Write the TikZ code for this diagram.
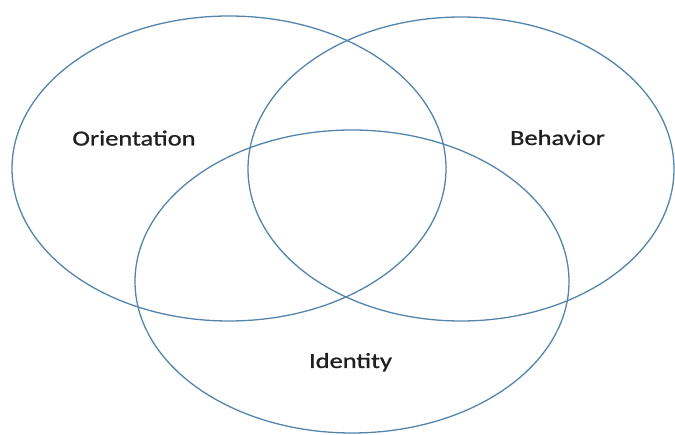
\documentclass[tikz,border=0pt]{standalone}
\usepackage{fontspec}
\setmainfont{Carlito}
\newfontfamily\lblfont[FakeStretch=1.23,FakeBold=0.9]{Carlito}
\definecolor{ring}{RGB}{84,132,172}
\begin{document}
\begin{tikzpicture}[x=1pt,y=-1pt,
  ring/.style={draw=ring,line width=1.3pt},
  lbl/.style={font=\lblfont\fontsize{21.5}{25}\selectfont,text=black!88,inner sep=0pt,anchor=base}]
\useasboundingbox (0,0) rectangle (675,435);
\draw[ring] (229,168.5) ellipse [x radius=217, y radius=152.5];
\draw[ring] (461,169) ellipse [x radius=213, y radius=152];
\draw[ring] (352,281.5) ellipse [x radius=217, y radius=151.5];
\node[lbl] (orient) at (134,145.5) {Orientation};
\node[lbl] (behav) at (557.5,145) {Behavior};
\node[lbl] (ident) at (350.5,368) {Identity};
\end{tikzpicture}
\end{document}
